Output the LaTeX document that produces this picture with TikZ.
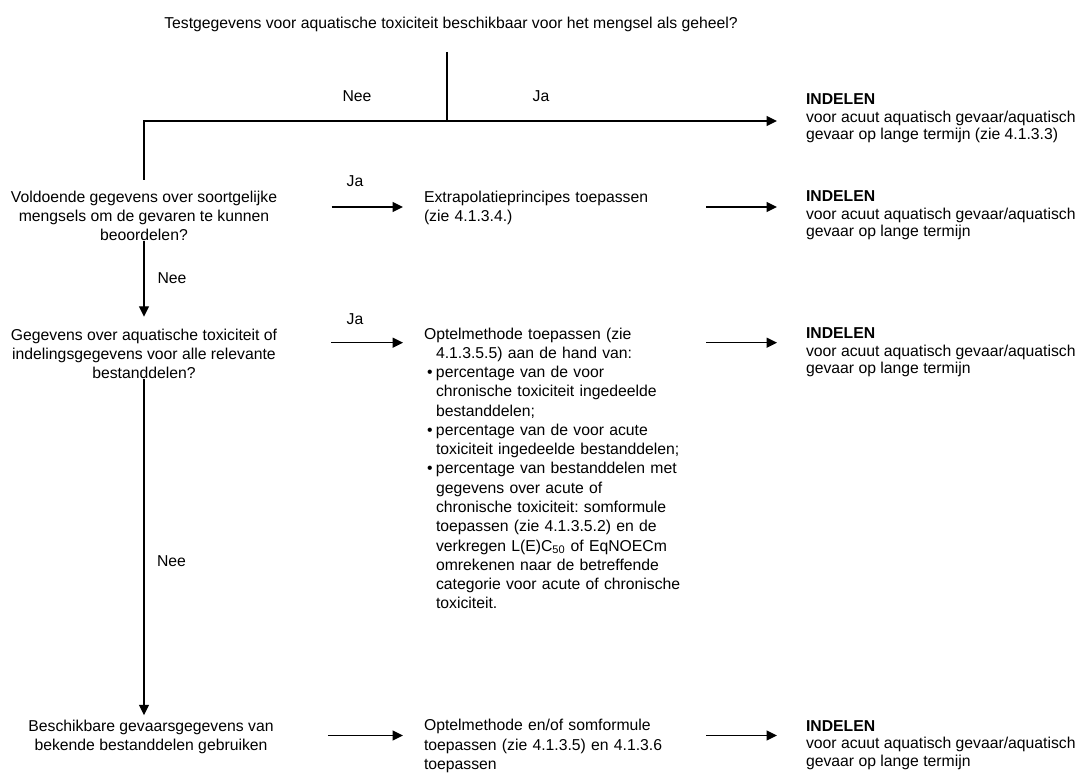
\documentclass[tikz,border=0pt]{standalone}
\usepackage{fontspec}
\setmainfont{Liberation Sans}
\usetikzlibrary{arrows.meta}
\frenchspacing

\newcommand{\inspring}{\hspace*{0.3cm}}
\newcommand{\opsom}{\makebox[0.3cm][l]{\hspace*{0.08cm}\textbullet}}

\begin{document}
\begin{tikzpicture}[x=0.025cm, y=-0.025cm,
    tekst/.style={inner sep=0pt, outer sep=0pt, font=\fontsize{11.2}{13.7}\selectfont},
    vraag/.style={tekst, align=center, anchor=north},
    stap/.style={tekst, align=left, text width=7cm, anchor=north west},
    indelen/.style={tekst, align=left, anchor=north west, font=\fontsize{11.2}{12.4}\selectfont},
    antw/.style={tekst, anchor=base},
    lijn/.style={line width=1pt},
    pijl/.style={lijn, -{Triangle[length=0.26cm,width=0.25cm]}},
    naarstap/.style={pijl, shorten <=1.36cm, shorten >=0.525cm},
    naarindelen/.style={pijl, shorten <=0.05cm, shorten >=0.725cm}]

    \useasboundingbox (0,0) rectangle (1079,773);

    % Hoofdvraag
    \node[antw] (titel) at (451,29)
        {Testgegevens voor aquatische toxiciteit beschikbaar voor het mengsel als geheel?};
    \coordinate (splits) at (447,52);
    \coordinate (knoop) at (447,121);

    % Rijen van de pijlen
    \coordinate (rij2) at (0,207);
    \coordinate (rij3) at (0,342.7);
    \coordinate (rij4) at (0,735.5);

    % Linker kolom: vragen
    \node[vraag] (voldoende) at (144,190.7)
        {Voldoende gegevens over soortgelijke\\mengsels om de gevaren te kunnen\\beoordelen?};
    \node[vraag] (gegevens) at (144,328.7)
        {Gegevens over aquatische toxiciteit of\\indelingsgegevens voor alle relevante\\bestanddelen?};
    \node[vraag] (beschikbaar) at (151,720)
        {Beschikbare gevaarsgegevens van\\bekende bestanddelen gebruiken};

    % Middelste kolom: methoden
    \node[stap] (extrapolatie) at (424,190.7)
        {Extrapolatieprincipes toepassen\\(zie 4.1.3.4.)};
    \node[stap] (optel) at (424,327.7)
        {Optelmethode toepassen (zie\\
        \inspring 4.1.3.5.5) aan de hand van:\\
        \opsom percentage van de voor\\
        \inspring chronische toxiciteit ingedeelde\\
        \inspring bestanddelen;\\
        \opsom percentage van de voor acute\\
        \inspring toxiciteit ingedeelde bestanddelen;\\
        \opsom percentage van bestanddelen met\\
        \inspring gegevens over acute of\\
        \inspring chronische toxiciteit: somformule\\
        \inspring toepassen (zie 4.1.3.5.2) en de\\
        \inspring verkregen L(E)C\textsubscript{50} of EqNOECm\\
        \inspring omrekenen naar de betreffende\\
        \inspring categorie voor acute of chronische\\
        \inspring toxiciteit.};
    \node[stap] (somformule) at (424,719.5)
        {Optelmethode en/of somformule\\toepassen (zie 4.1.3.5) en 4.1.3.6\\toepassen};

    % Rechter kolom: indelen
    \node[indelen] (indelen1) at (806,94)
        {\textbf{INDELEN}\\voor acuut aquatisch gevaar/aquatisch\\gevaar op lange termijn (zie 4.1.3.3)};
    \node[indelen] (indelen2) at (806,191)
        {\textbf{INDELEN}\\voor acuut aquatisch gevaar/aquatisch\\gevaar op lange termijn};
    \node[indelen] (indelen3) at (806,328)
        {\textbf{INDELEN}\\voor acuut aquatisch gevaar/aquatisch\\gevaar op lange termijn};
    \node[indelen] (indelen4) at (806,720.5)
        {\textbf{INDELEN}\\voor acuut aquatisch gevaar/aquatisch\\gevaar op lange termijn};

    % Ja / Nee
    \node[antw] (nee1) at (357,101.5) {Nee};
    \node[antw] (ja1) at (541,101.5) {Ja};
    \node[antw] (ja2) at (355,187) {Ja};
    \node[antw] (nee2) at (172,284) {Nee};
    \node[antw] (ja3) at (355,325) {Ja};
    \node[antw] (nee3) at (171.5,566) {Nee};

    % Verbindingen
    \draw[lijn] (splits) -- (knoop);
    \draw[pijl, shorten >=0.725cm] (knoop) -- (indelen1.west |- knoop);
    \draw[lijn, shorten >=0.27cm] (knoop) -| (voldoende.north);
    \draw[pijl, shorten >=0.3cm] (voldoende.south) -- (gegevens.north);
    \draw[pijl, shorten >=0.12cm] (gegevens.south) -- (gegevens.south |- beschikbaar.north);

    \draw[naarstap] (voldoende.east |- rij2) -- (extrapolatie.west |- rij2);
    \draw[naarstap] (gegevens.east |- rij3) -- (optel.west |- rij3);
    \draw[naarstap] (beschikbaar.east |- rij4) -- (somformule.west |- rij4);

    \draw[naarindelen] (extrapolatie.east |- rij2) -- (indelen2.west |- rij2);
    \draw[naarindelen] (optel.east |- rij3) -- (indelen3.west |- rij3);
    \draw[naarindelen] (somformule.east |- rij4) -- (indelen4.west |- rij4);

\end{tikzpicture}
\end{document}
